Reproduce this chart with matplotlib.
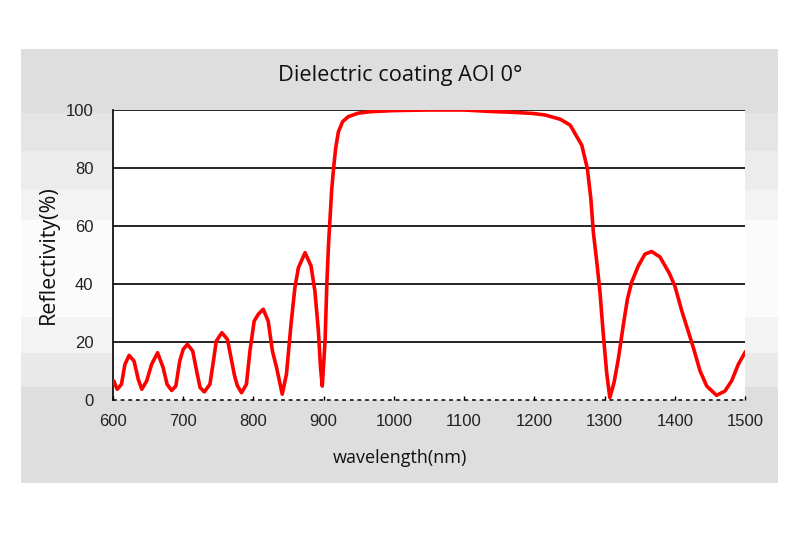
import matplotlib
matplotlib.use("Agg")
import matplotlib.pyplot as plt
from matplotlib.patches import Rectangle

# reflectivity curve
wavelength = [600, 601, 606, 612, 617, 623, 630, 636, 641, 648, 655, 663.5, 671.5, 677,
              683.5, 689.5, 695, 700, 706, 713.5, 720, 724, 730, 738, 743, 747, 755, 763,
              769, 773, 777, 783, 790, 795, 801, 807, 814, 821, 827, 833, 841, 847, 853.5,
              859, 864, 873.5, 882, 887.5, 892.5, 895.5, 898, 902, 904.5, 907, 911.5, 914,
              917, 921, 927, 935, 949, 966, 999, 1050, 1100, 1137, 1170, 1198, 1215, 1237,
              1251, 1267.5, 1275.5, 1280.5, 1284, 1289, 1293.5, 1298, 1303, 1307.5, 1313.5,
              1319.5, 1326.5, 1332.5, 1338.5, 1348, 1357.5, 1367, 1379, 1392, 1400, 1410,
              1419, 1426.5, 1436, 1445.5, 1459.5, 1471.5, 1481, 1490.5, 1500]
reflect = [6.0, 6.6, 3.7, 5.4, 12.3, 15.4, 13.4, 7.1, 3.7, 6.6, 12.3, 16.3, 11.1, 5.4,
           3.3, 4.8, 13.4, 17.5, 19.2, 16.9, 8.9, 4.3, 2.8, 5.4, 13.4, 20.3, 23.2, 20.9,
           13.4, 8.5, 5.0, 2.5, 5.4, 16.9, 27.2, 29.6, 31.3, 27.2, 16.9, 11.1, 2.0, 8.9, 26.1,
           38.7, 45.6, 50.8, 46.2, 37.6, 23.8, 11.2, 4.8, 20.3, 40.0, 54.0, 72.7, 79.6,
           86.7, 92.5, 96.0, 97.7, 98.9, 99.4, 99.8, 100, 100, 99.5, 99.2, 98.8, 98.3, 96.8,
           94.8, 87.9, 79.8, 69.4, 57.9, 47.5, 37.1, 23.3, 9.4, 0.8, 6.0,
           14.0, 25.5, 34.7, 40.6, 46.2, 50.3, 51.2, 49.3, 43.8, 39.4, 30.7,
           23.8, 18.0, 10.0, 4.8, 1.6, 3.1, 6.6, 12.3, 16.4]

x_ticks = [600, 700, 800, 900, 1000, 1100, 1200, 1300, 1400, 1500]
y_ticks = [0, 20, 40, 60, 80, 100]

W, H = 800, 533
fig = plt.figure(figsize=(8, 5.33), dpi=100)
fig.patch.set_facecolor("white")

# gray panel with stepped bands (pixel rows top -> bottom)
bands = [(49, 113, "#dedede"), (113, 151, "#e5e5e5"), (151, 190, "#ececec"),
         (190, 220, "#f3f3f3"), (220, 317, "#fbfbfb"), (317, 353, "#f3f3f3"),
         (353, 387, "#e9e9e9"), (387, 483, "#dedede")]
for top, bot, col in bands:
    fig.add_artist(Rectangle((21 / W, 1 - bot / H), (778 - 21) / W, (bot - top) / H,
                             transform=fig.transFigure, facecolor=col, edgecolor="none",
                             zorder=0))

ax = fig.add_axes([113 / W, 1 - 400 / H, (745 - 113) / W, (400 - 110) / H])
ax.set_facecolor("white")
ax.set_xlim(600, 1500)
ax.set_ylim(0, 100)

for v in y_ticks[1:]:
    ax.axhline(v, color="black", lw=1.2, zorder=1)
ax.axhline(0, color="black", lw=1.1, linestyle=(0, (2.5, 2.5)), zorder=4, clip_on=False)

ax.plot(wavelength, reflect, color="#ff0000", lw=2.6, zorder=3, solid_joinstyle="round")

for s in ["top", "right", "bottom"]:
    ax.spines[s].set_visible(False)
ax.spines["left"].set_color("black")
ax.spines["left"].set_linewidth(1.2)

ax.set_xticks(x_ticks)
ax.set_yticks(y_ticks)
ax.tick_params(axis="x", direction="in", length=3, width=1, color="black", pad=10,
               labelsize=12, labelcolor="#222222")
ax.tick_params(axis="y", length=0, pad=14, labelsize=12, labelcolor="#222222")
for lab in ax.get_xticklabels() + ax.get_yticklabels():
    lab.set_fontfamily("Liberation Sans")

fig.text(400 / W, 1 - 76 / H, "Dielectric coating AOI 0°", ha="center", va="center",
         fontsize=15.7, family="Open Sans", color="#111111")
fig.text(400 / W, 1 - 458 / H, "wavelength(nm)", ha="center", va="center",
         fontsize=13, family="Open Sans", color="#111111")
fig.text(48 / W, 1 - 255 / H, "Reflectivity(%)", ha="center", va="center", rotation=90,
         fontsize=15.5, family="Open Sans", color="#111111")

fig.savefig("out.png", dpi=100)
